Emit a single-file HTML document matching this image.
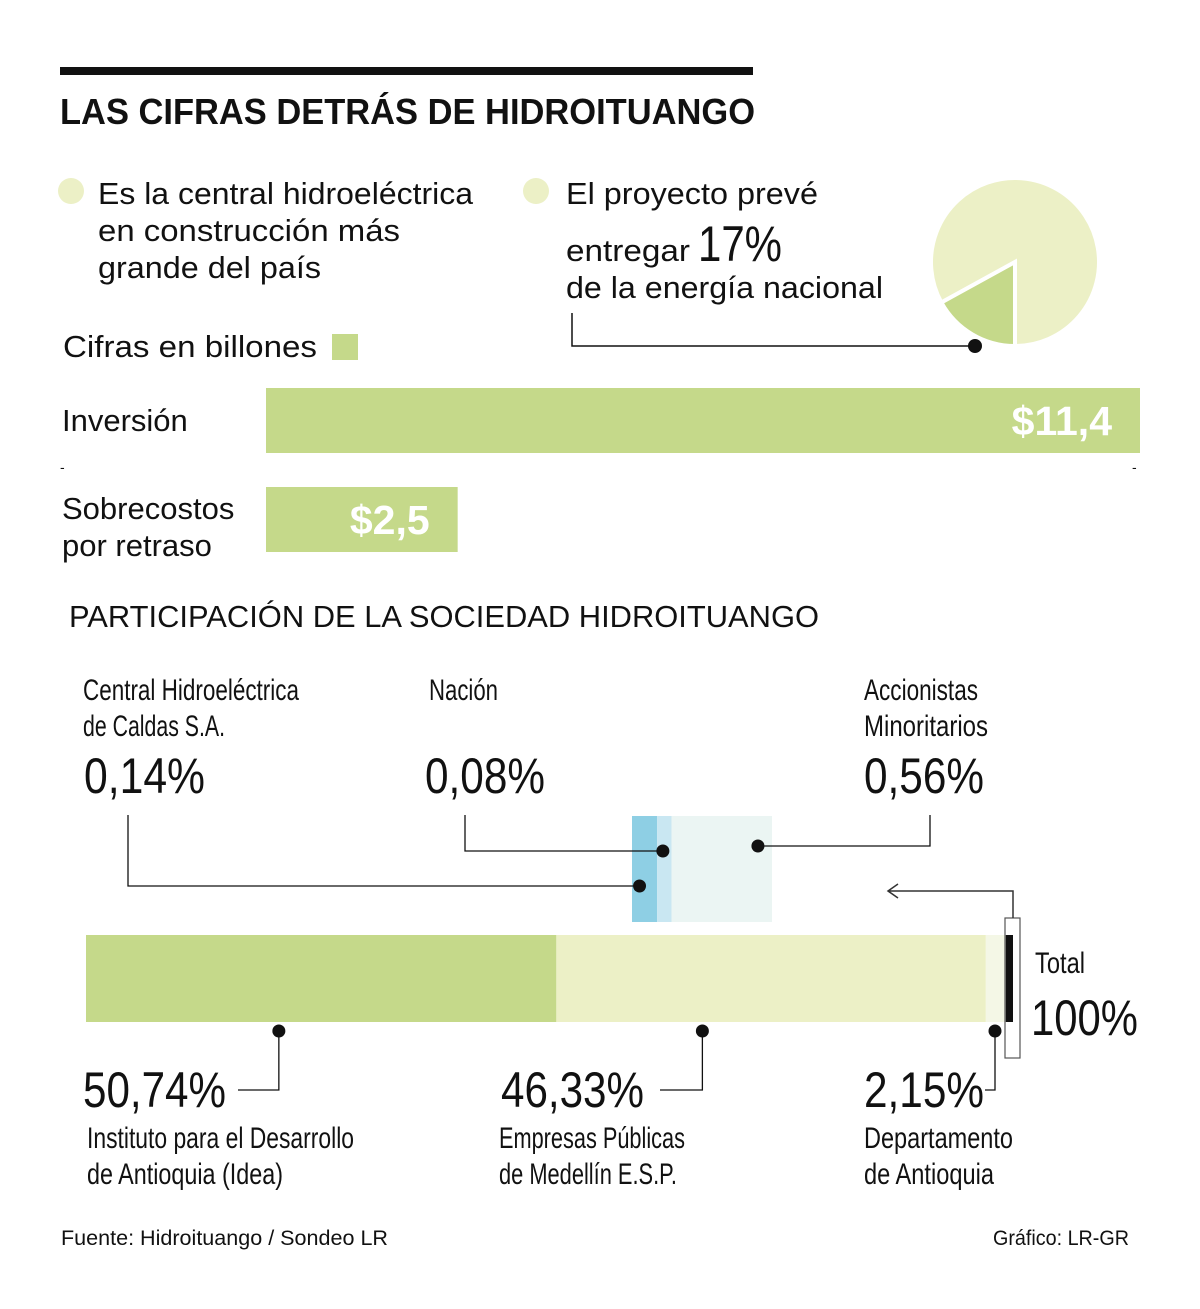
<!DOCTYPE html>
<html><head><meta charset="utf-8"><style>
html,body{margin:0;padding:0;background:#fff}
svg{display:block}
text{font-family:"Liberation Sans",sans-serif;fill:#111}
</style></head><body>
<svg id="c" width="1200" height="1309" viewBox="0 0 1200 1309" xmlns="http://www.w3.org/2000/svg">
<rect x="60" y="67" width="693" height="8" fill="#111"/>
<text x="60" y="124" font-size="36" font-weight="bold" textLength="695" lengthAdjust="spacingAndGlyphs">LAS CIFRAS DETRÁS DE HIDROITUANGO</text>

<circle cx="71" cy="191" r="13" fill="#ecf0c6"/>
<g font-size="31">
<text x="98" y="204" textLength="375" lengthAdjust="spacingAndGlyphs">Es la central hidroeléctrica</text>
<text x="98" y="241" textLength="302" lengthAdjust="spacingAndGlyphs">en construcción más</text>
<text x="98" y="278" textLength="223" lengthAdjust="spacingAndGlyphs">grande del país</text>
</g>
<circle cx="536" cy="191" r="13" fill="#ecf0c6"/>
<g font-size="31">
<text x="566" y="204" textLength="252" lengthAdjust="spacingAndGlyphs">El proyecto prevé</text>
<text x="566" y="261" textLength="124" lengthAdjust="spacingAndGlyphs">entregar</text>
<text x="698" y="261" font-size="50" textLength="84" lengthAdjust="spacingAndGlyphs">17%</text>
<text x="566" y="298" textLength="317" lengthAdjust="spacingAndGlyphs">de la energía nacional</text>
</g>
<g id="pie"></g>
<polyline points="572,313 572,346 975,346" fill="none" stroke="#111" stroke-width="1.5"/>
<circle cx="975" cy="346" r="7" fill="#111"/>

<text x="63" y="357" font-size="31" textLength="254" lengthAdjust="spacingAndGlyphs">Cifras en  billones</text>
<rect x="332" y="334" width="26" height="26" fill="#c5d98a"/>

<g id="bars"></g>
<text x="60" y="472" font-size="14">-</text>
<text x="1132" y="472" font-size="14">-</text>

<text x="69" y="627" font-size="31" textLength="750" lengthAdjust="spacingAndGlyphs">PARTICIPACIÓN DE LA SOCIEDAD HIDROITUANGO</text>

<g id="stack"></g>
</svg>
<script>
const NS="http://www.w3.org/2000/svg";
function mk(p,tag,attrs,txt){const e=document.createElementNS(NS,tag);for(const k in attrs)e.setAttribute(k,attrs[k]);if(txt!==undefined)e.textContent=txt;p.appendChild(e);return e;}

const pieShare=[17];
const pieG=document.getElementById('pie');
(function(){
  const cx=1015,cy=262,r=84,p=pieShare[0]/100;
  const a=p*2*Math.PI;
  const ex=cx-r*Math.sin(a), ey=cy+r*Math.cos(a);
  let big=p>0.5?1:0;
  const rest=mk(pieG,'path',{d:`M${cx},${cy} L${ex},${ey} A${r},${r} 0 ${1-big} 1 ${cx},${cy+r} Z`,fill:'#ecf0c6',stroke:'#fff','stroke-width':4});
  
  
  const sl=mk(pieG,'path',{d:`M${cx},${cy} L${cx},${cy+r} A${r},${r} 0 ${big} 1 ${ex},${ey} Z`,fill:'#c5d98a',stroke:'#fff','stroke-width':4});
  
  
})();

const costCats=["Inversión","Sobrecostos por retraso"];
const costVals=[11.4,2.5];
const costLabels=["$11,4","$2,5"];
const barsG=document.getElementById('bars');
const xCost=v=>v*(874/11.4);
const costY=[388,487];
costVals.forEach((v,i)=>{
  const w=xCost(v);
  const r=mk(barsG,'rect',{x:266,y:costY[i],width:w,height:65,fill:'#c5d98a'});
  
  
  const t=mk(barsG,'text',{x:266+w-28,y:costY[i]+47,'font-size':41,'font-weight':'bold','text-anchor':'end',style:'fill:#fff'},costLabels[i]);
  
  
});
const l1=mk(barsG,'text',{x:62,y:431,'font-size':31},"Inversión");


const l2=mk(barsG,'text',{x:62,y:519,'font-size':31},"Sobrecostos");


const l3=mk(barsG,'text',{x:62,y:556,'font-size':31},"por retraso");



const ownCats=["Idea","EPM","Departamento","Otros"];
const ownVals=[50.74,46.33,2.15,0.78];
const ownColors=["#c5d98a","#ecf0c6","#f4f7e6","#111"];
const minorCats=["Central Hidroeléctrica de Caldas","Nación","Accionistas Minoritarios"];
const minorVals=[0.14,0.08,0.56];
const minorColors=["#8ecfe4","#c9e7f2","#ebf5f3"];
const sG=document.getElementById('stack');
const X0=86,W=927;
const xOwn=v=>X0+v/100*W;
let acc=0;const segX=[];
ownVals.forEach((v,i)=>{
  const x=xOwn(acc),w=xOwn(acc+v)-x;segX.push([x,w]);
  const r=mk(sG,'rect',{x:x,y:935,width:w,height:87,fill:ownColors[i]});
  
  
  acc+=v;
});
const mTot=minorVals.reduce((a,b)=>a+b,0);
const ZX=632,ZW=140;
let macc=0;const mX=[];
const dotFrac=[0.3,0.4,0.86];
minorVals.forEach((v,i)=>{
  const x=ZX+macc/mTot*ZW,w=v/mTot*ZW;mX.push(x+w*dotFrac[i]);
  const r=mk(sG,'rect',{x:x,y:816,width:w,height:106,fill:minorColors[i]});
  
  
  macc+=v;
});
const tb=mk(sG,'rect',{x:1005,y:918,width:15,height:140,fill:'none',stroke:'#555','stroke-width':1.2});


const ar=mk(sG,'path',{d:'M1013,918 V891 H888 M898,884 L888,891 L898,898',fill:'none',stroke:'#333','stroke-width':1.5});



function leader(pts,dot,name){
  const p=mk(sG,'polyline',{points:pts,fill:'none',stroke:'#111','stroke-width':1.3});
  
  
  const c=mk(sG,'circle',{cx:dot[0],cy:dot[1],r:6.5,fill:'#111'});
  
  
}
leader(`128,815 128,886 ${mX[0]},886`,[mX[0],886],'caldas');
leader(`465,815 465,851 ${mX[1]},851`,[mX[1],851],'nacion');
leader(`930,815 930,846 ${mX[2]},846`,[mX[2],846],'minoritarios');
const d0=segX[0][0]+segX[0][1]*0.41, d1=segX[1][0]+segX[1][1]*0.34, d2=995;
leader(`${d0},1031 ${d0},1090 238,1090`,[d0,1031],'idea');
leader(`${d1},1031 ${d1},1090 660,1090`,[d1,1031],'epm');
leader(`${d2},1031 ${d2},1090 985,1090`,[d2,1031],'departamento');

function fmt(v){return v.toFixed(2).replace('.',',')+'%';}
function txt(x,y,s,str,len,name){
  const t=mk(sG,'text',{x:x,y:y,'font-size':s,textLength:len,lengthAdjust:'spacingAndGlyphs'},str);
  
  
}
txt(83,700,30,"Central Hidroeléctrica",216,'caldas-label-1');
txt(83,736,30,"de Caldas S.A.",142,'caldas-label-2');
txt(84,793,50,fmt(minorVals[0]),121,'caldas-value');
txt(429,700,30,"Nación",69,'nacion-label');
txt(425,793,50,fmt(minorVals[1]),120,'nacion-value');
txt(864,700,30,"Accionistas",114,'minoritarios-label-1');
txt(864,736,30,"Minoritarios",124,'minoritarios-label-2');
txt(864,793,50,fmt(minorVals[2]),120,'minoritarios-value');
txt(1035,973,30,"Total",50,'total-label');
txt(1031,1035,50,"100%",107,'total-value');
txt(83,1107,50,fmt(ownVals[0]),143,'idea-value');
txt(87,1148,30,"Instituto para el Desarrollo",267,'idea-label-1');
txt(87,1184,30,"de Antioquia (Idea)",196,'idea-label-2');
txt(501,1107,50,fmt(ownVals[1]),143,'epm-value');
txt(499,1148,30,"Empresas Públicas",186,'epm-label-1');
txt(499,1184,30,"de Medellín E.S.P.",178,'epm-label-2');
txt(864,1107,50,fmt(ownVals[2]),120,'departamento-value');
txt(864,1148,30,"Departamento",149,'departamento-label-1');
txt(864,1184,30,"de Antioquia",130,'departamento-label-2');
txt(61,1245,21,"Fuente: Hidroituango / Sondeo LR",327,'source');
txt(993,1245,21,"Gráfico: LR-GR",136,'credit');
</script>
</body></html>
